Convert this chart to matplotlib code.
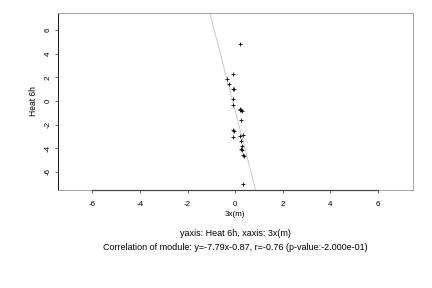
import matplotlib
matplotlib.use('Agg')
import matplotlib.pyplot as plt
import numpy as np

# scatter values
xs = [0.21, -0.08, -0.34, -0.25, -0.11, -0.04, -0.08, -0.11, 0.21, 0.27, 0.25,
      -0.10, -0.05, -0.10, 0.21, 0.34, 0.25, 0.28, 0.23, 0.29, 0.34, 0.37, 0.34,
      0.24, 0.22]
ys = [4.86, 2.26, 1.84, 1.44, 0.97, 1.05, 0.14, -0.36, -0.76, -0.87, -1.64,
      -2.48, -2.57, -3.10, -2.99, -2.91, -3.42, -3.78, -4.09, -4.20, -4.58, -4.71, -7.06,
      -0.80, -0.70]
slope = -7.79
intercept = -0.87
ticks = [-6, -4, -2, 0, 2, 4, 6]
xlabel = '3x(m)'
ylabel = 'Heat 6h'
line1 = 'yaxis: Heat 6h, xaxis: 3x(m)'
line2 = 'Correlation of module: y=-7.79x-0.87, r=-0.76 (p-value:-2.000e-01)'

plt.rcParams['font.family'] = ['Liberation Sans', 'DejaVu Sans']
W, H = 432, 288
fs = 9
fig = plt.figure(figsize=(6, 4), dpi=72)
ax = fig.add_axes([57.5 / W, 1 - 190 / H, (413 - 57.5) / W, (190 - 13) / H])
xlim = (-7.47, 7.47)
ylim = (-7.55, 7.45)

xx = np.array(xlim)
ax.plot(xx, slope * xx + intercept, color='#c8c8c8', lw=0.9, zorder=1)
ax.plot(xs, ys, '+', color='black', ms=4.5, mew=0.8, zorder=2)
ax.set_xlim(xlim)
ax.set_ylim(ylim)

for s in ['top', 'right', 'bottom']:
    ax.spines[s].set_color('#999999')
    ax.spines[s].set_linewidth(0.9)
ax.spines['left'].set_color('black')
ax.spines['left'].set_linewidth(0.9)
# darker bottom axis line between first and last tick
ax.plot([ticks[0], ticks[-1]], [ylim[0], ylim[0]], color='#444444', lw=1.2,
        clip_on=False, zorder=3)

ax.set_xticks(ticks)
ax.set_yticks(ticks)
ax.set_xticklabels([str(t) for t in ticks])
ax.set_yticklabels([str(t) for t in ticks], rotation=90, va='center')
ax.tick_params(axis='both', direction='out', length=3, width=0.8,
               labelsize=8, color='#444444')
ax.tick_params(axis='x', pad=8)
ax.tick_params(axis='y', pad=3)
ax.set_xlabel(xlabel, fontsize=8, labelpad=3)
ax.set_ylabel(ylabel, fontsize=8.5, labelpad=6)

fig.text(235 / W, 1 - 234 / H, line1, ha='center', va='center', fontsize=fs)
fig.text(235 / W, 1 - 247 / H, line2, ha='center', va='center', fontsize=fs)

fig.savefig('out.png', dpi=72)
